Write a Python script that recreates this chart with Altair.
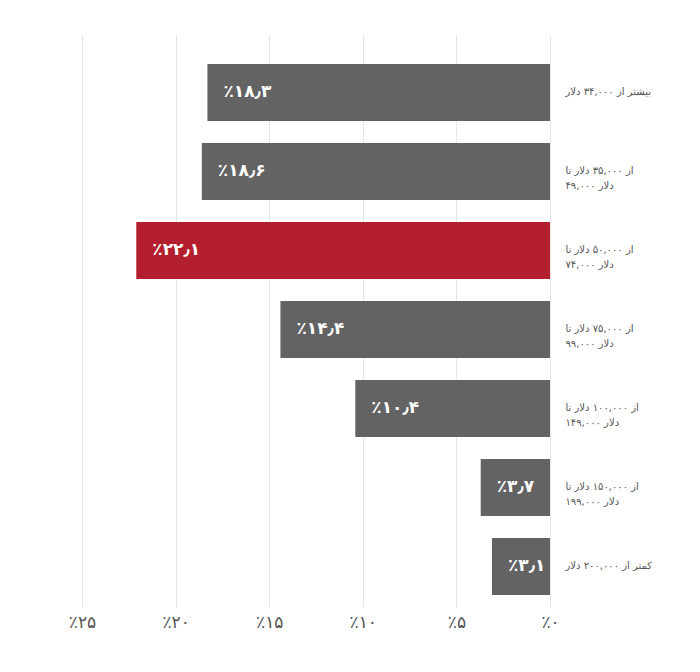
import altair as alt
import pandas as pd

# Category labels (Persian), top to bottom; "\n" marks the line break
categories = [
    "بیشتر از ۳۴,۰۰۰ دلار",
    "از ۳۵,۰۰۰ دلار تا\n۴۹,۰۰۰ دلار",
    "از ۵۰,۰۰۰ دلار تا\n۷۴,۰۰۰ دلار",
    "از ۷۵,۰۰۰ دلار تا\n۹۹,۰۰۰ دلار",
    "از ۱۰۰,۰۰۰ دلار تا\n۱۴۹,۰۰۰ دلار",
    "از ۱۵۰,۰۰۰ دلار تا\n۱۹۹,۰۰۰ دلار",
    "کمتر از ۲۰۰,۰۰۰ دلار",
]
values = [18.3, 18.6, 22.1, 14.4, 10.4, 3.7, 3.1]
value_labels = ["٪۱۸٫۳", "٪۱۸٫۶", "٪۲۲٫۱", "٪۱۴٫۴", "٪۱۰٫۴", "٪۳٫۷", "٪۳٫۱"]
groups = ["normal", "normal", "highlight", "normal", "normal", "normal", "normal"]
tick_values = [0, 5, 10, 15, 20, 25]
tick_labels = ["٪۰", "٪۵", "٪۱۰", "٪۱۵", "٪۲۰", "٪۲۵"]

df = pd.DataFrame({
    "category": categories,
    "value": values,
    "label": value_labels,
    "group": groups,
})
order = list(categories)

x_expr = "".join(f"datum.value == {v} ? '{l}' : " for v, l in zip(tick_values, tick_labels)) + "''"

x_enc = alt.X(
    "value:Q",
    scale=alt.Scale(domain=[0, 25], reverse=True, nice=False, zero=True),
    axis=alt.Axis(
        values=tick_values, labelExpr=x_expr, grid=True, gridColor="#e6e6e6",
        gridWidth=1, domain=False, ticks=False, labelFontSize=17, labelColor="#555555",
        labelFont="DejaVu Sans", labelPadding=7, labelFlush=False, labelOverlap=False,
        title=None,
    ),
)
y_enc = alt.Y(
    "category:N",
    sort=order,
    scale=alt.Scale(paddingInner=0.278, paddingOuter=0.259, align=0.707),
    axis=alt.Axis(
        orient="right", title=None, domain=False, ticks=False, grid=False,
        labelPadding=15, labelAlign="left", labelBaseline="middle",
        labelFontSize=10, labelColor="#555555", labelFont="DejaVu Sans",
        labelLineHeight=15, labelLimit=300,
        labelExpr="split(datum.label, '\\n')",
    ),
)

bars = alt.Chart(df).mark_bar().encode(
    x=x_enc,
    y=y_enc,
    color=alt.Color("group:N", scale=alt.Scale(domain=["normal", "highlight"],
                                                 range=["#636363", "#b31f2e"]), legend=None),
)

texts = alt.Chart(df).mark_text(
    align="left", baseline="middle", dx=16, color="white",
    fontSize=17, fontWeight="bold", font="DejaVu Sans",
).encode(
    x=alt.X("value:Q"),
    y=alt.Y("category:N", sort=order),
    text="label:N",
)

chart = alt.layer(bars, texts).properties(
    width=468, height=572,
    autosize=alt.AutoSizeParams(type="none"),
    padding={"left": 82, "top": 35, "right": 150, "bottom": 65},
    view=alt.ViewBackground(strokeOpacity=0, strokeWidth=0),
).configure_view(strokeOpacity=0, strokeWidth=0).configure(background="white")

chart.save("out.html", embed_options={"renderer": "svg", "actions": False})
